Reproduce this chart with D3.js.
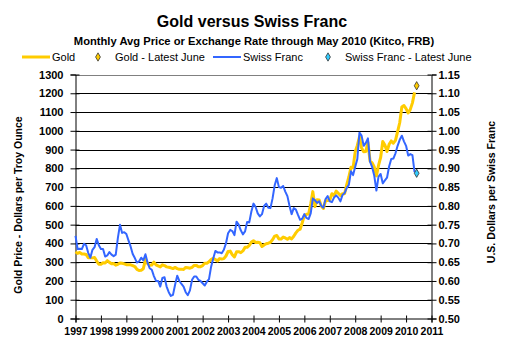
<!DOCTYPE html>
<html>
<head>
<meta charset="utf-8">
<script src="https://cdn.jsdelivr.net/npm/d3@7"></script>
<style>
  html, body { margin: 0; padding: 0; background: #fff; }
  svg { display: block; font-family: "Liberation Sans", Arial, sans-serif; }
</style>
</head>
<body>
<svg id="chart" width="505" height="362"></svg>
<script>
// ---------------- DATA ----------------
const years = [1997, 1998, 1999, 2000, 2001, 2002, 2003, 2004, 2005, 2006, 2007, 2008, 2009, 2010];
const yearTicks = [1997, 1998, 1999, 2000, 2001, 2002, 2003, 2004, 2005, 2006, 2007, 2008, 2009, 2010, 2011];
// Monthly average gold price, USD per troy ounce (Jan 1997 .. May 2010)
const goldPrice = [
  355, 347, 352, 344, 344, 341, 324, 324, 323, 325, 306, 289,
  289, 297, 296, 308, 299, 292, 293, 284, 289, 296, 294, 291,
  287, 287, 286, 282, 277, 262, 256, 257, 265, 314, 293, 284,
  285, 300, 286, 280, 275, 286, 282, 275, 273, 270, 266, 272,
  266, 262, 263, 261, 272, 270, 268, 273, 283, 283, 276, 276,
  282, 295, 294, 302, 314, 321, 314, 307, 319, 317, 319, 333,
  357, 359, 340, 328, 355, 356, 351, 360, 379, 379, 389, 407,
  414, 405, 406, 404, 384, 392, 398, 401, 406, 420, 439, 442,
  424, 423, 434, 429, 422, 431, 424, 438, 456, 470, 476, 510,
  549, 555, 557, 610, 676, 596, 633, 632, 598, 586, 628, 629,
  631, 665, 655, 679, 667, 655, 665, 665, 713, 754, 806, 803,
  889, 922, 968, 909, 888, 890, 939, 839, 829, 807, 760, 816,
  858, 943, 924, 890, 928, 946, 934, 949, 996, 1043, 1127, 1135,
  1118, 1095, 1114, 1149, 1205
];
// Monthly average exchange rate, USD per Swiss franc (Jan 1997 .. May 2010)
const chfRate = [
  0.720, 0.685, 0.686, 0.685, 0.699, 0.695, 0.675, 0.662, 0.683, 0.690, 0.712, 0.695,
  0.685, 0.685, 0.665, 0.668, 0.677, 0.670, 0.666, 0.670, 0.715, 0.750, 0.728, 0.730,
  0.725, 0.708, 0.692, 0.672, 0.661, 0.649, 0.652, 0.662, 0.655, 0.671, 0.649, 0.634,
  0.630, 0.613, 0.600, 0.600, 0.585, 0.608, 0.610, 0.585, 0.570, 0.560, 0.563, 0.590,
  0.614, 0.600, 0.592, 0.585, 0.570, 0.562, 0.575, 0.603, 0.612, 0.612, 0.603, 0.600,
  0.594, 0.588, 0.598, 0.605, 0.638, 0.660, 0.680, 0.676, 0.676, 0.674, 0.683, 0.700,
  0.727, 0.736, 0.733, 0.722, 0.758, 0.750, 0.735, 0.724, 0.732, 0.757, 0.756, 0.785,
  0.806, 0.797, 0.780, 0.772, 0.778, 0.800, 0.806, 0.795, 0.794, 0.820, 0.855, 0.874,
  0.850, 0.848, 0.853, 0.838, 0.826, 0.800, 0.778, 0.794, 0.790, 0.776, 0.763, 0.766,
  0.778, 0.768, 0.765, 0.780, 0.820, 0.815, 0.808, 0.812, 0.800, 0.795, 0.818, 0.826,
  0.812, 0.810, 0.822, 0.828, 0.822, 0.812, 0.829, 0.834, 0.848, 0.856, 0.892, 0.882,
  0.904, 0.925, 0.995, 0.987, 0.960, 0.968, 0.980, 0.918, 0.903, 0.880, 0.841, 0.878,
  0.885, 0.860, 0.868, 0.875, 0.905, 0.925, 0.926, 0.940, 0.960, 0.976, 0.987, 0.972,
  0.960, 0.934, 0.938, 0.935, 0.890
];
const goldLatestJune = 1240;
const chfLatestJune = 0.887;
const latestJuneTime = 2010 + 5 / 12;
const goldTicks = [0, 100, 200, 300, 400, 500, 600, 700, 800, 900, 1000, 1100, 1200, 1300];
const chfTicks = [0.50, 0.55, 0.60, 0.65, 0.70, 0.75, 0.80, 0.85, 0.90, 0.95, 1.00, 1.05, 1.10, 1.15];

const titleText = "Gold versus Swiss Franc";
const subtitleText = "Monthly Avg Price or Exchange Rate through May 2010 (Kitco, FRB)";
const leftTitle = "Gold Price - Dollars per Troy Ounce";
const rightTitle = "U.S. Dollars per Swiss Franc";
const legendItems = [
  { label: "Gold", type: "line", color: "#FFCC00" },
  { label: "Gold - Latest June", type: "marker", color: "#FFCC00" },
  { label: "Swiss Franc", type: "line", color: "#3366FF" },
  { label: "Swiss Franc - Latest June", type: "marker", color: "#33CCFF" }
];

// ---------------- LAYOUT ----------------
const svg = d3.select("#chart");
const L = 75.5, R = 431.5, T = 74.5, B = 318.5;
const GOLD = "#FFCC00", BLUE = "#3366FF", CYAN = "#33CCFF";
const markerSize = 20;

const timeOf = (i) => years[0] + i / 12;
const x = d3.scaleLinear().domain([1997, 2011]).range([L, R]);
const yG = d3.scaleLinear().domain([0, 1300]).range([B, T]);
const yC = d3.scaleLinear().domain([0.50, 1.15]).range([B, T]);

// Titles
svg.append("text").attr("x", 252).attr("y", 27).attr("text-anchor", "middle")
  .attr("font-size", 16).attr("font-weight", "bold").text(titleText);
svg.append("text").attr("x", 254).attr("y", 44.5).attr("text-anchor", "middle")
  .attr("font-size", 11.2).attr("font-weight", "bold").text(subtitleText);

// Legend
const legendX = [22, 92, 213, 322];
legendItems.forEach((it, i) => {
  const g = svg.append("g").attr("transform", `translate(${legendX[i]},57)`);
  if (it.type === "line") {
    g.append("line").attr("x1", 0).attr("x2", 28).attr("y1", 0).attr("y2", 0)
      .attr("stroke", it.color).attr("stroke-width", it.color === GOLD ? 3 : 2);
    g.append("text").attr("x", 30).attr("y", 4).attr("font-size", 11).text(it.label);
  } else {
    g.append("path").attr("d", d3.symbol(d3.symbolDiamond, markerSize)())
      .attr("transform", "translate(6,0)")
      .attr("fill", it.color).attr("stroke", "#333").attr("stroke-width", 0.8);
    g.append("text").attr("x", 23).attr("y", 4).attr("font-size", 11).text(it.label);
  }
});

// Gridlines
svg.append("g").selectAll("line").data(goldTicks.filter(d => d > 0)).join("line")
  .attr("x1", L).attr("x2", R)
  .attr("y1", d => Math.round(yG(d)) + 0.5).attr("y2", d => Math.round(yG(d)) + 0.5)
  .attr("stroke", d => d === 1300 ? "#808080" : "#000").attr("stroke-width", 1);

// Axes
const axL = svg.append("g").attr("transform", `translate(${L},0)`)
  .call(d3.axisLeft(yG).tickValues(goldTicks).tickSize(5).tickPadding(7).tickFormat(d3.format("d")));
const axR = svg.append("g").attr("transform", `translate(${R},0)`)
  .call(d3.axisRight(yC).tickValues(chfTicks).tickSize(5).tickPadding(2).tickFormat(d3.format(".2f")));
const axB = svg.append("g").attr("transform", `translate(0,${B})`)
  .call(d3.axisBottom(x).tickValues(yearTicks).tickSize(4).tickPadding(5).tickFormat(d3.format("d")));
[axL, axR, axB].forEach(a => {
  a.select(".domain").attr("stroke", "#000").attr("stroke-width", 1);
  a.selectAll(".tick line").attr("stroke", "#000");
  a.selectAll("text").attr("font-family", "Liberation Sans, Arial, sans-serif")
    .attr("font-weight", "bold").attr("font-size", 11).attr("fill", "#000");
});
axB.selectAll("text").attr("font-size", 10.5);
// cross ticks (extend inward)
axL.selectAll(".tick").append("line").attr("x1", 0).attr("x2", 4).attr("stroke", "#000");
axR.selectAll(".tick").append("line").attr("x1", 0).attr("x2", -4).attr("stroke", "#000");
axB.selectAll(".tick").append("line").attr("y1", 0).attr("y2", -3).attr("stroke", "#000");

// Axis titles
svg.append("text").attr("transform", "translate(22,205) rotate(-90)").attr("text-anchor", "middle")
  .attr("font-size", 10.5).attr("font-weight", "bold").text(leftTitle);
svg.append("text").attr("transform", "translate(495,192) rotate(-90)").attr("text-anchor", "middle")
  .attr("font-size", 10.5).attr("font-weight", "bold").text(rightTitle);

// Lines
const goldLine = d3.line().x((d, i) => x(timeOf(i))).y(d => yG(d));
const chfLine = d3.line().x((d, i) => x(timeOf(i))).y(d => yC(d));
svg.append("path").datum(goldPrice).attr("d", goldLine)
  .attr("fill", "none").attr("stroke", GOLD).attr("stroke-width", 3).attr("stroke-linejoin", "round");
svg.append("path").datum(chfRate).attr("d", chfLine)
  .attr("fill", "none").attr("stroke", BLUE).attr("stroke-width", 2).attr("stroke-linejoin", "round");

// Latest June markers
svg.append("path").attr("d", d3.symbol(d3.symbolDiamond, markerSize)())
  .attr("transform", `translate(${x(latestJuneTime)},${yG(goldLatestJune)})`)
  .attr("fill", GOLD).attr("stroke", "#333").attr("stroke-width", 0.8);
svg.append("path").attr("d", d3.symbol(d3.symbolDiamond, markerSize)())
  .attr("transform", `translate(${x(latestJuneTime)},${yC(chfLatestJune)})`)
  .attr("fill", CYAN).attr("stroke", "#333").attr("stroke-width", 0.8);
</script>
</body>
</html>
